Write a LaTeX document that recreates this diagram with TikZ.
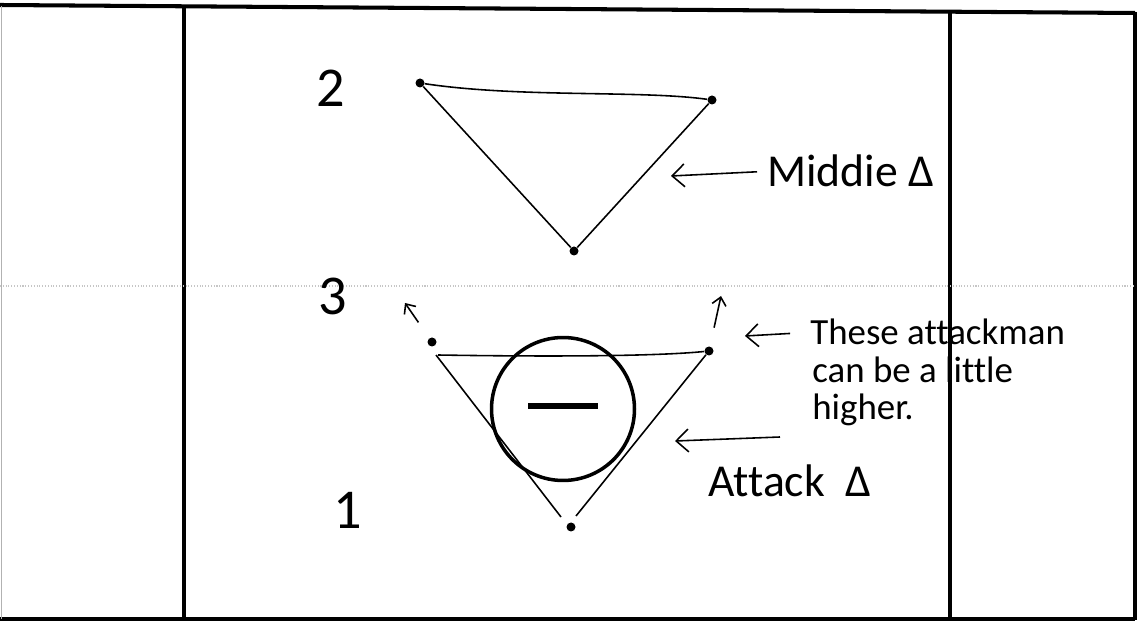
\documentclass[tikz,border=0pt]{standalone}
\usepackage{fontspec}
\setmainfont{Carlito}[Ligatures=NoCommon]
\usetikzlibrary{positioning,arrows.meta,calc}

\begin{document}
\begin{tikzpicture}[
    x=0.02cm,
    y=-0.02cm,
    frame/.style={line width=2.3pt},
    guide/.style={gray!45, densely dotted, line width=0.6pt},
    player/.style={circle, fill, inner sep=0pt, minimum size=0.18cm},
    edge/.style={line width=0.9pt},
    arrow/.style={-{Straight Barb[length=7pt,width=13pt]}, line width=0.9pt},
    move/.style={-{Straight Barb[length=4.5pt,width=8pt]}, line width=0.9pt, shorten <=0.38cm},
    lbl/.style={font=\fontsize{26}{30}\selectfont, inner sep=0pt, anchor=base west},
    note/.style={font=\fontsize{21}{25}\selectfont, inner sep=0pt, anchor=base west},
    num/.style={font=\fontsize{32}{34}\selectfont, inner sep=0pt, anchor=base west},
    ball/.style={circle, draw, line width=2pt, minimum size=2.86cm, inner sep=0pt}
]
\useasboundingbox (0,0) rectangle (1143,624);

% ============================================================
% FRAME
% ============================================================
\draw[frame] (0,5) -- (1135,13);
\draw[frame] (0,619) -- (1135,619);
\draw[frame] (184,6) -- (184,619);
\draw[frame] (950,12) -- (950,619);
\draw[frame] (1135,12) -- (1135,620);
\draw[gray!60, line width=0.5pt] (1,6) -- (1,619);
\draw[guide] (0,286) -- (1135,286);

% ============================================================
% LINE NUMBERS
% ============================================================
\node[num] (two) at (316,107) {2};
\node[num] (three) at (318,315) {3};
\node[num] (one) at (333,529) {1};

% ============================================================
% MIDDIE TRIANGLE
% ============================================================
\node[player] (m1) at (420,83) {};
\node[player] (m2) at (712,100) {};
\node[player] (m3) at (574,251) {};

\draw[edge] (m1) .. controls (520,98) and (640,90) .. (m2);
\draw[edge] (m1) -- (m3);
\draw[edge] (m3) -- (m2);

\node[lbl] (middie) at (767,187) {Middie Δ};
\coordinate (middietip) at (671,176);
\draw[arrow, shorten <=0.2cm] (middie.west) -- (middietip);

% ============================================================
% ATTACK TRIANGLE
% ============================================================
\node[player] (a1) at (432,342) {};
\node[player] (a2) at (709,351) {};
\node[player] (a3) at (571,527) {};

\draw[edge] ([shift={(6,13)}]a1.center) .. controls (560,357) and (660,356) .. (a2);
\draw[edge] ([shift={(4,13)}]a1.center) -- ([shift={(-10,-10)}]a3.center);
\draw[edge] ([shift={(5,-11)}]a3.center) -- (a2);

\node[ball] (ball) at (563,409) {};
\draw[line width=3pt] ($(ball.center)+(-35,-3)$) -- ($(ball.center)+(35,-3)$);

\coordinate (a1up) at (405,303);
\coordinate (a2up) at (721,296);
\draw[move] (a1) -- (a1up);
\draw[move] (a2) -- (a2up);

\node[note] (these) at (810,345) {These attackman};
\node[note] (canbe) at (812,383) {can be a little};
\node[note] (higher) at (812,420) {higher.};
\coordinate (thesetip) at (745,336);
\draw[arrow, shorten <=0.4cm] (these.west) -- (thesetip);

\node[lbl] (attack) at (708,497) {Attack~~Δ};
\coordinate (attacktail) at (780,437);
\coordinate (attacktip) at (675,441);
\draw[arrow] (attacktail) -- (attacktip);

\end{tikzpicture}
\end{document}
